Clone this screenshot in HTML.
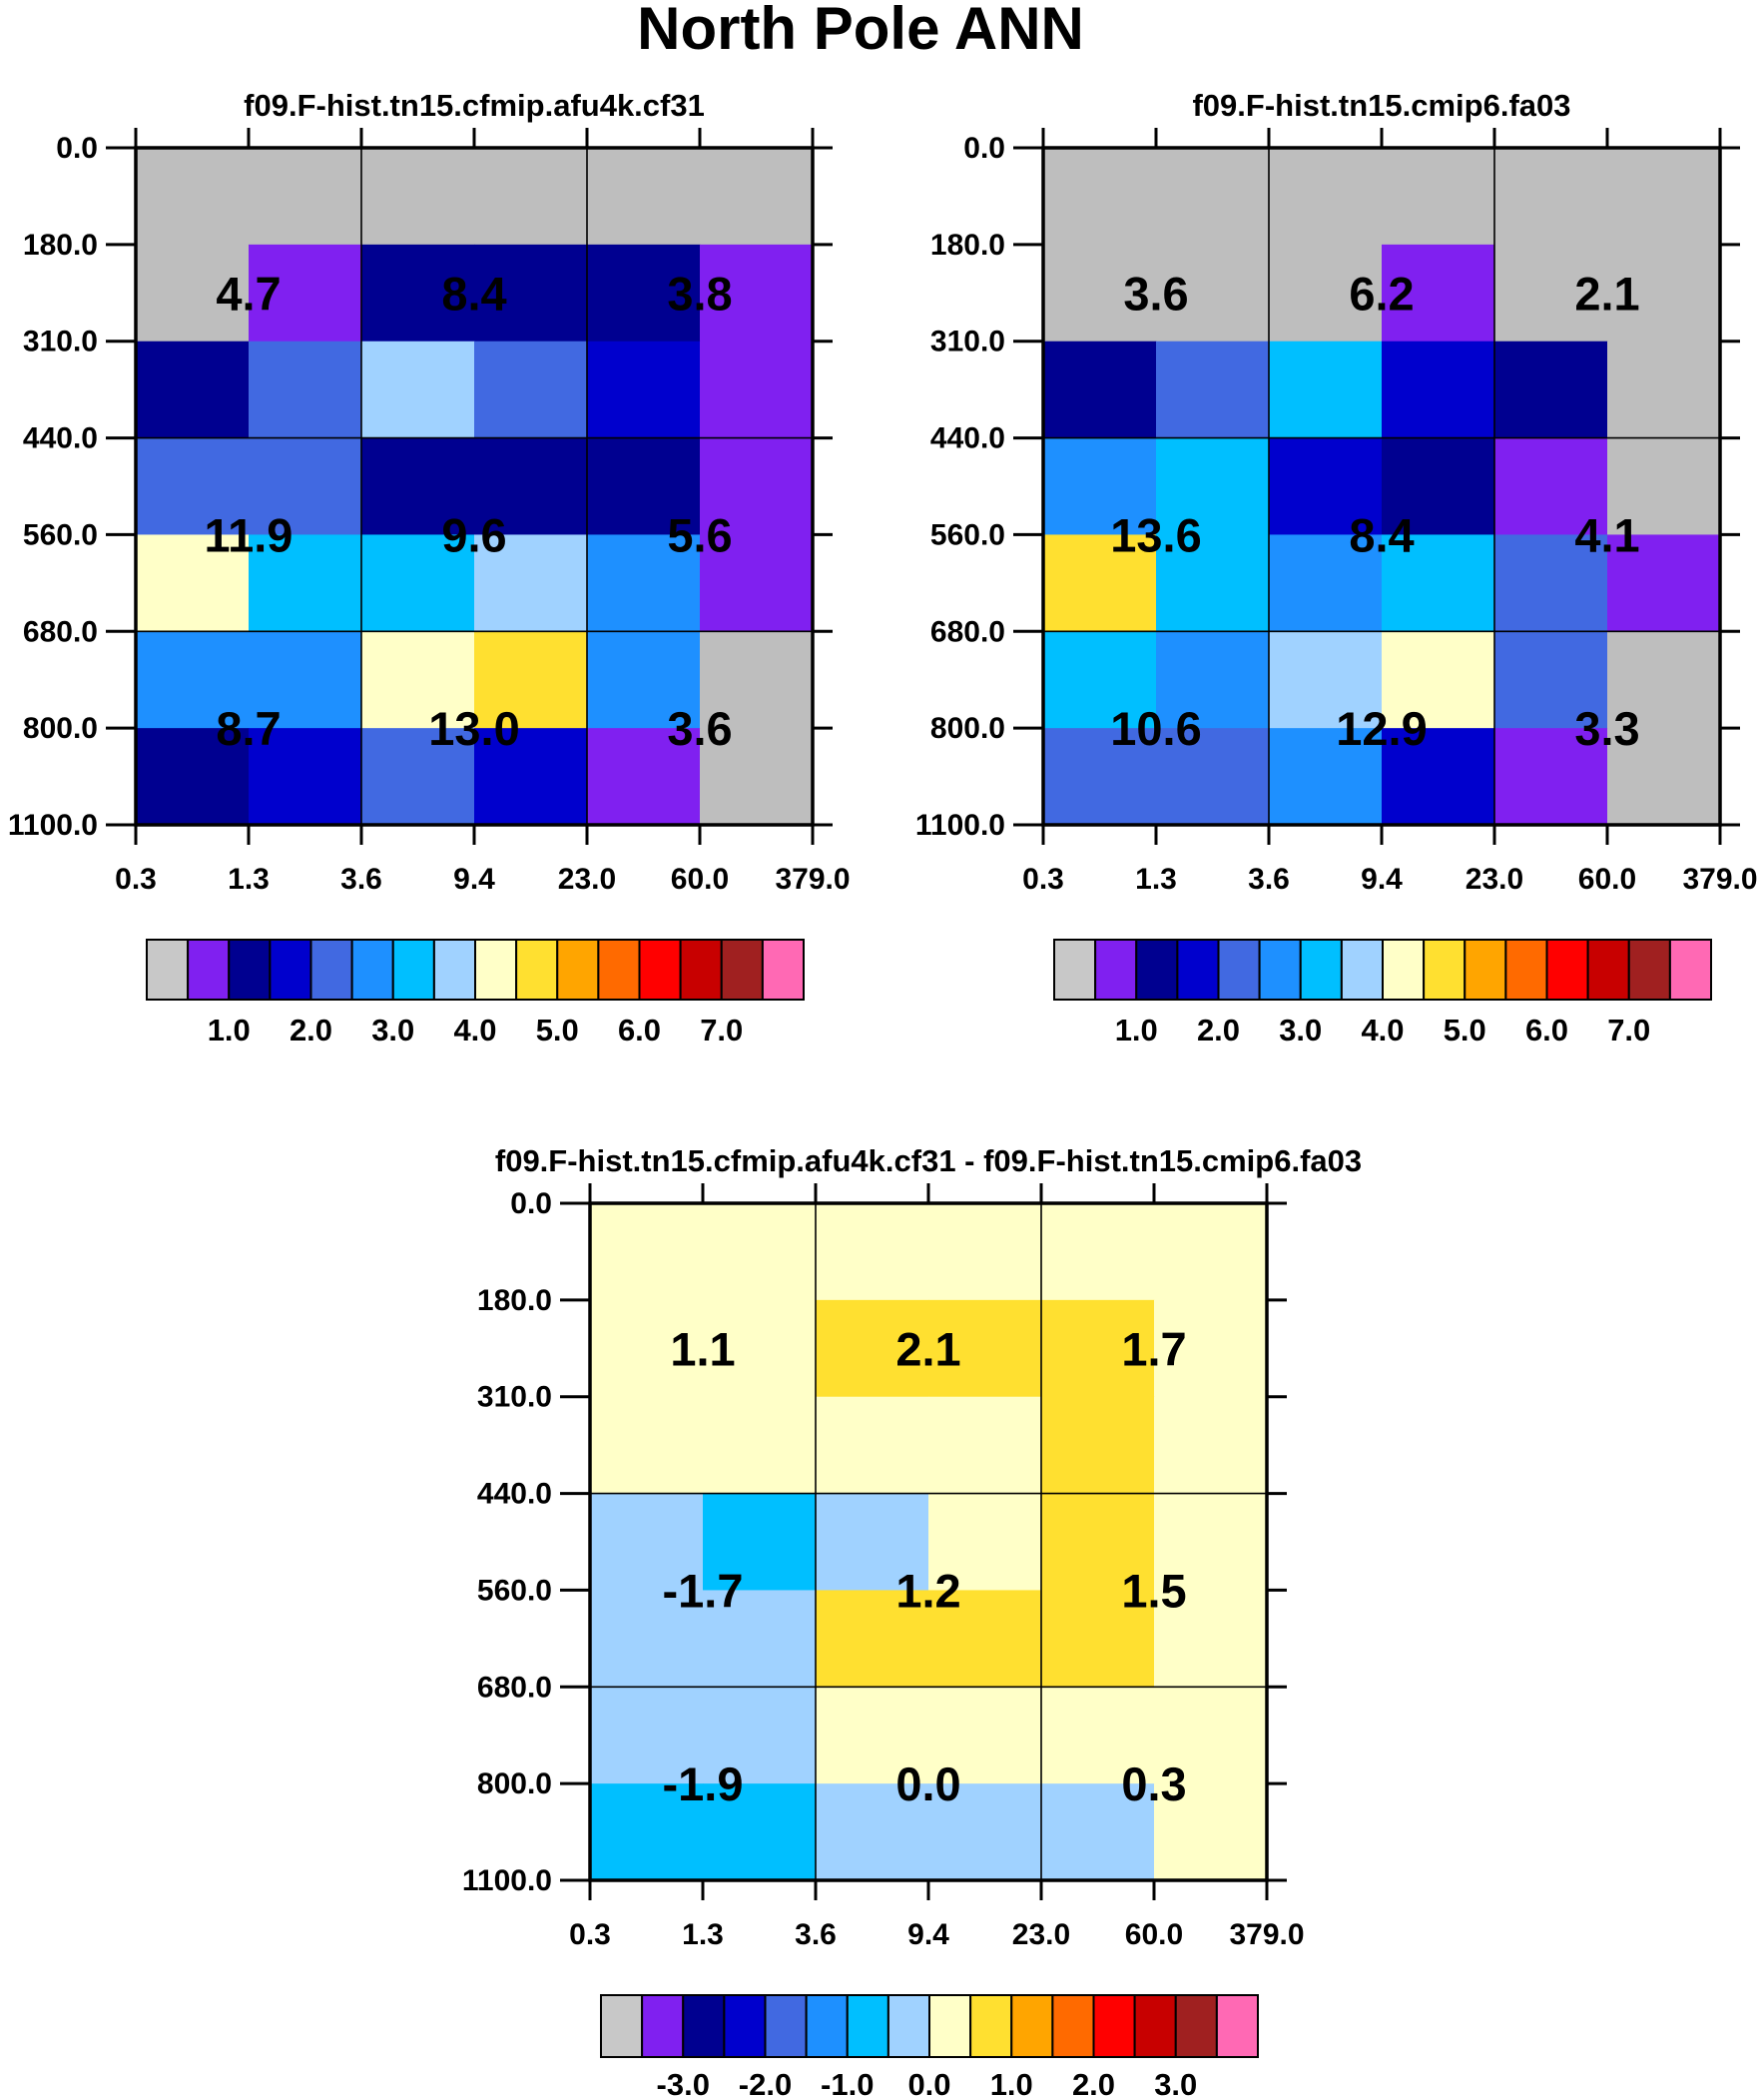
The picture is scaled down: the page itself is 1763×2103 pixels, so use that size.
<!DOCTYPE html>
<html><head><meta charset="utf-8"><style>
html,body{margin:0;padding:0;background:#fff}
svg{display:block}
text{font-family:"Liberation Sans",Arial,sans-serif;font-weight:bold;fill:#000}
</style></head><body>
<svg id="fig" width="1763" height="2103" viewBox="0 0 1763 2103" xmlns="http://www.w3.org/2000/svg">
<text x="862" y="49" font-size="60" text-anchor="middle">North Pole ANN</text>
</svg>
<script>
const palette=['#bebebe','#8020f0','#000090','#0000cd','#4169e1','#1e90ff','#00bfff','#a0d2ff','#ffffc8','#ffe030','#ffa500','#ff6a00','#ff0000','#c80000','#a02020','#ff69b4'];
const xTickLabels=['0.3','1.3','3.6','9.4','23.0','60.0','379.0'];
const yTickLabels=['0.0','180.0','310.0','440.0','560.0','680.0','800.0','1100.0'];
const grid1=[[0,0,0,0,0,0],[0,1,2,2,2,1],[2,4,7,4,3,1],[4,4,2,2,2,1],[8,6,6,7,5,1],[5,5,8,9,5,0],[2,3,4,3,1,0]];
const grid2=[[0,0,0,0,0,0],[0,0,0,1,0,0],[2,4,6,3,2,0],[5,6,3,2,1,0],[9,6,5,6,4,1],[6,5,7,8,4,0],[4,4,5,3,1,0]];
const grid3=[[8,8,8,8,8,8],[8,8,9,9,9,8],[8,8,8,8,9,8],[7,6,7,8,9,8],[7,7,9,9,9,8],[7,7,8,8,8,8],[6,6,7,7,7,8]];
const values1=[['4.7','8.4','3.8'],['11.9','9.6','5.6'],['8.7','13.0','3.6']];
const values2=[['3.6','6.2','2.1'],['13.6','8.4','4.1'],['10.6','12.9','3.3']];
const values3=[['1.1','2.1','1.7'],['-1.7','1.2','1.5'],['-1.9','0.0','0.3']];
const cbLabels12=['1.0','2.0','3.0','4.0','5.0','6.0','7.0'];
const cbLabels3=['-3.0','-2.0','-1.0','0.0','1.0','2.0','3.0'];
const NS='http://www.w3.org/2000/svg';
const svg=document.getElementById('fig');
function el(tag,attrs,parent){const e=document.createElementNS(NS,tag);for(const k in attrs)e.setAttribute(k,attrs[k]);(parent||svg).appendChild(e);return e;}
const labelRows=[1.5,4,6];
function panel(name,x0,y0,w,h,grid,vals,title){
  const g=el('g',{});
  
  
  const cw=w/6,rh=h/7;
  const xs=i=>x0+i*cw, ys=j=>y0+j*rh;
  grid.forEach((row,j)=>row.forEach((c,i)=>{
    const r=el('rect',{x:xs(i),y:ys(j),width:cw+0.5,height:rh+0.5,fill:palette[c]},g);
    
    
  }));
  [2,4].forEach(i=>el('line',{x1:xs(i),y1:y0,x2:xs(i),y2:y0+h,stroke:'#000','stroke-width':1.6},g));
  [3,5].forEach(j=>el('line',{x1:x0,y1:ys(j),x2:x0+w,y2:ys(j),stroke:'#000','stroke-width':1.6},g));
  el('rect',{x:x0,y:y0,width:w,height:h,fill:'none',stroke:'#000','stroke-width':3.5},g);
  const tl=20;
  xTickLabels.forEach((t,i)=>{
    el('line',{x1:xs(i),y1:y0-tl,x2:xs(i),y2:y0,stroke:'#000','stroke-width':3},g);
    el('line',{x1:xs(i),y1:y0+h,x2:xs(i),y2:y0+h+tl,stroke:'#000','stroke-width':3},g);
    const tx=el('text',{x:xs(i),y:y0+h+64,'font-size':30,'text-anchor':'middle'},g);
    tx.textContent=t;
    
    
  });
  yTickLabels.forEach((t,j)=>{
    el('line',{x1:x0-tl-10,y1:ys(j),x2:x0,y2:ys(j),stroke:'#000','stroke-width':3},g);
    el('line',{x1:x0+w,y1:ys(j),x2:x0+w+tl,y2:ys(j),stroke:'#000','stroke-width':3},g);
    const tx=el('text',{x:x0-38,y:ys(j)+10,'font-size':30,'text-anchor':'end'},g);
    tx.textContent=t;
    
    
  });
  vals.forEach((row,j)=>row.forEach((v,i)=>{
    const tx=el('text',{x:xs(1+2*i),y:ys(labelRows[j])+17,'font-size':47,'text-anchor':'middle'},g);
    tx.textContent=v;
    
    
  }));
  const st=el('text',{x:x0+w/2,y:y0-32,'font-size':31,'text-anchor':'middle'},g);
  st.textContent=title;
  
  
}
function colorbar(name,x0,y0,w,h,labels,dy){
  const g=el('g',{});
  
  
  const bw=w/16;
  palette.forEach((c,i)=>{
    const r=el('rect',{x:x0+i*bw,y:y0,width:bw,height:h,fill:i===0?'#c8c8c8':c,stroke:'#000','stroke-width':2},g);
    
    
  });
  labels.forEach((t,k)=>{
    const tx=el('text',{x:x0+(2+2*k)*bw,y:y0+h+dy,'font-size':31,'text-anchor':'middle'},g);
    tx.textContent=t;
    
    
  });
}
panel('panel-cfmip',136,148,678,678,grid1,values1,'f09.F-hist.tn15.cfmip.afu4k.cf31');
panel('panel-cmip6',1045,148,678,678,grid2,values2,'f09.F-hist.tn15.cmip6.fa03');
panel('panel-difference',591,1205,678,678,grid3,values3,'f09.F-hist.tn15.cfmip.afu4k.cf31 - f09.F-hist.tn15.cmip6.fa03');
colorbar('colorbar-cfmip',147,941,658,60,cbLabels12,41);
colorbar('colorbar-cmip6',1056,941,658,60,cbLabels12,41);
colorbar('colorbar-difference',602,1998,658,62,cbLabels3,38);
</script>
</body></html>
